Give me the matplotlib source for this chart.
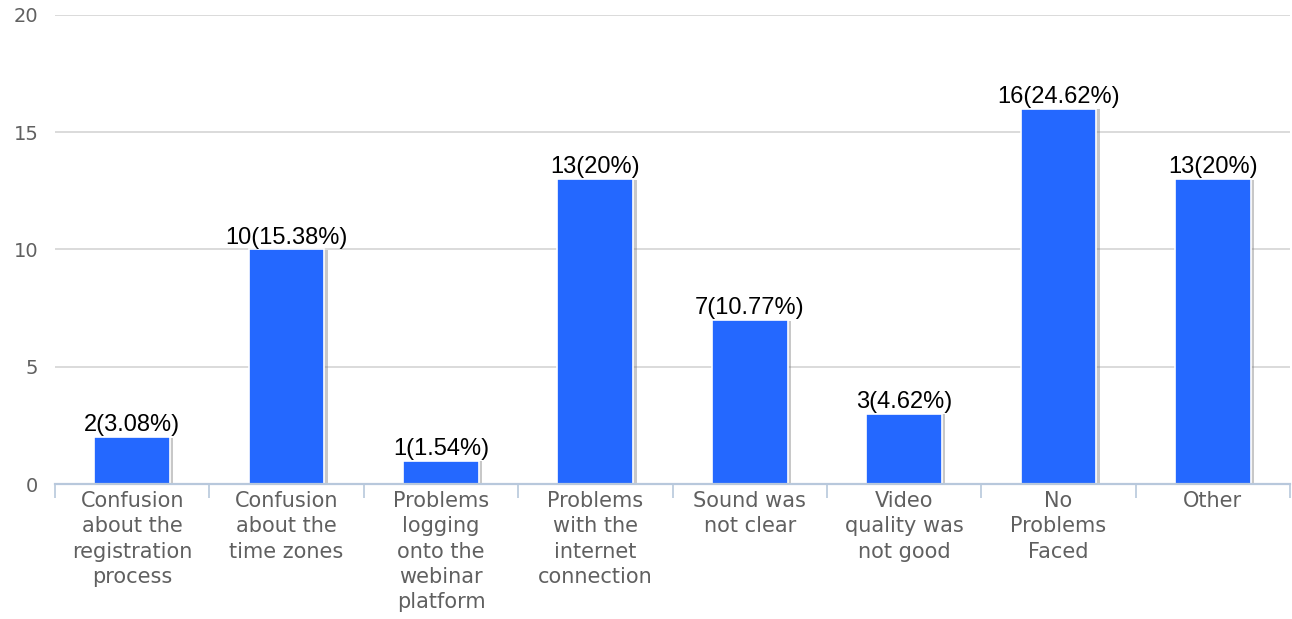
import matplotlib
matplotlib.use("Agg")
import matplotlib.pyplot as plt
import matplotlib.patheffects as pe
import numpy as np

categories = [
    "Confusion\nabout the\nregistration\nprocess",
    "Confusion\nabout the\ntime zones",
    "Problems\nlogging\nonto the\nwebinar\nplatform",
    "Problems\nwith the\ninternet\nconnection",
    "Sound was\nnot clear",
    "Video\nquality was\nnot good",
    "No\nProblems\nFaced",
    "Other",
]
counts = [2, 10, 1, 13, 7, 3, 16, 13]
percents = ["3.08", "15.38", "1.54", "20", "10.77", "4.62", "24.62", "20"]
yticks = [0, 5, 10, 15, 20]

fig = plt.figure(figsize=(12.92, 6.19), dpi=100)
ax = fig.add_axes([55 / 1292, (619 - 484) / 619, (1290 - 55) / 1292, (484 - 15) / 619])

x = np.arange(len(categories))
bars = ax.bar(x, counts, width=0.49, color="#2468FF", edgecolor="white", linewidth=1.2, zorder=3)
for b in bars:
    b.set_path_effects([pe.SimplePatchShadow(offset=(2.5, -0.5), shadow_rgbFace="#777777", alpha=0.4), pe.Normal()])

for xi, c, p in zip(x, counts, percents):
    ax.annotate(f"{c}({p}%)", (xi, c), xytext=(0, 0.5), textcoords="offset points",
                ha="center", va="bottom", fontsize=17, family="Liberation Sans", color="black", zorder=5)

ax.set_xlim(-0.5, len(categories) - 0.5)
ax.set_ylim(0, 20)
ax.set_yticks(yticks)
ax.set_yticklabels([str(t) for t in yticks], family="DejaVu Sans")
ax.grid(axis="y", color="#D4D4D4", linewidth=1.2, zorder=0)
ax.set_axisbelow(True)

for s in ["top", "right", "left"]:
    ax.spines[s].set_visible(False)
ax.spines["bottom"].set_color("#B8C8DC")
ax.spines["bottom"].set_linewidth(1.6)
ax.spines["bottom"].set_zorder(4)

ax.tick_params(axis="y", length=0, pad=12, labelsize=14, labelcolor="#606060")
ax.set_xticks(x)
ax.set_xticklabels(categories, fontsize=15, color="#606060", linespacing=1.33, va="top", family="DejaVu Sans")
ax.tick_params(axis="x", length=0, pad=5)
ax.set_xticks(np.arange(-0.5, len(categories) + 0.5, 1.0), minor=True)
ax.tick_params(axis="x", which="minor", length=10, width=1.2, color="#B8C8DC")

fig.savefig("out.png", dpi=100, facecolor="white")
